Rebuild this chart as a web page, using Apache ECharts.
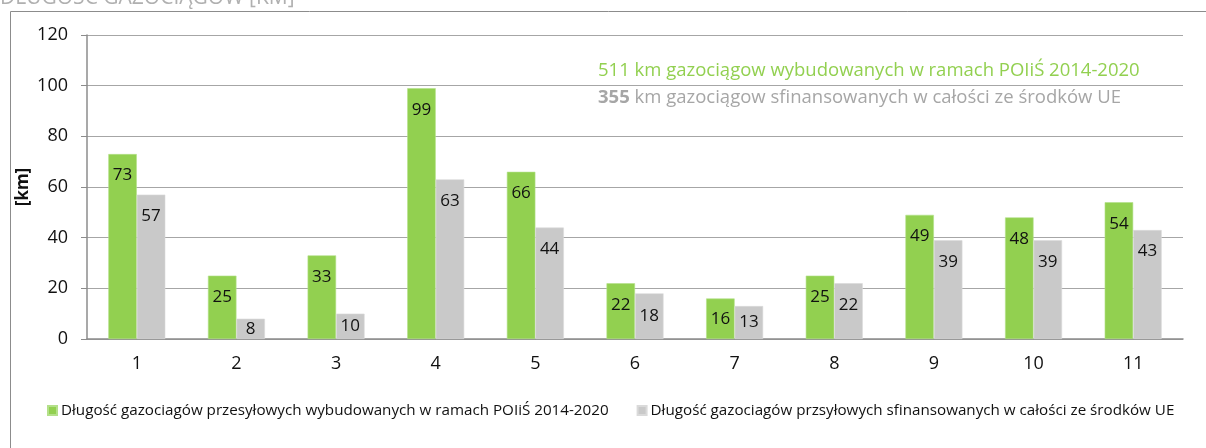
<!DOCTYPE html>
<html>
<head>
<meta charset="utf-8">
<script src="https://cdn.jsdelivr.net/npm/echarts@6/dist/echarts.min.js"></script>
<style>
html,body{margin:0;padding:0;background:#fff;}
#chart{width:1206px;height:448px;}
</style>
</head>
<body>
<div id="chart"></div>
<script>
// dane wykresu
var categories = ['1','2','3','4','5','6','7','8','9','10','11'];
var builtValues = [73, 25, 33, 99, 66, 22, 16, 25, 49, 48, 54];
var fundedValues = [57, 8, 10, 63, 44, 18, 13, 22, 39, 39, 43];
var yTicks = [0, 20, 40, 60, 80, 100, 120];
var seriesNames = [
    'Długość gazociagów przesyłowych wybudowanych w ramach POIiŚ 2014-2020',
    'Długość gazociagów przsyłowych sfinansowanych w całości ze środków UE'
];
var noteBuilt = '511 km gazociągow wybudowanych w ramach POIiŚ 2014-2020';
var noteFundedNum = '355';
var noteFundedText = ' km gazociągow sfinansowanych w całości ze środków UE';

var FONT = '"Open Sans", sans-serif';
var GREEN = '#92D050', GRAY = '#C9C9C9';

//niskie słupki - etykieta na środku
function toItems(arr){
    return arr.map(function(v){
        if(v < 20){
            return {value: v, label: {position: 'inside'}};
        }
        return v;
    });
}

var chart = echarts.init(document.getElementById('chart'));
var option = {
    animation: false,
    textStyle: {fontFamily: FONT},
    grid: {left: 87, right: 23, top: 35, bottom: 109, outerBoundsMode: 'none'},
    legend: {
        bottom: 25,
        left: 42,
        itemWidth: 9,
        itemHeight: 9,
        itemGap: 28,
        icon: 'rect',
        textStyle: {fontFamily: FONT, fontSize: 15.2, color: '#111', padding: [0,0,0,-1]},
        data: seriesNames
    },
    xAxis: {
        type: 'category',
        data: categories,
        axisLine: {lineStyle: {color: '#8c8c8c', width: 1.5}},
        axisTick: {length: 6, lineStyle: {color: '#8c8c8c'}},
        axisLabel: {fontSize: 18, color: '#111', margin: 16, fontFamily: FONT}
    },
    yAxis: {
        type: 'value',
        min: yTicks[0],
        max: yTicks[yTicks.length - 1],
        interval: yTicks[1] - yTicks[0],
        axisLine: {show: true, lineStyle: {color: '#8c8c8c', width: 1.5}},
        axisTick: {show: true, length: 6, lineStyle: {color: '#8c8c8c'}},
        axisLabel: {fontSize: 18, color: '#111', margin: 19, fontFamily: FONT},
        splitLine: {lineStyle: {color: '#a6a6a6', width: 1.2}}
    },
    graphic: [
        {
            type: 'rect',
            shape: {x: 10.5, y: 11.5, width: 1220, height: 460},
            style: {fill: 'none', stroke: '#8c8c8c', lineWidth: 1},
            silent: true
        },
        {
            type: 'text',
            left: 0,
            top: -12,
            style: {text: 'DŁUGOŚĆ GAZOCIĄGÓW [KM]', fill: '#b0b0b0', font: '21px ' + FONT}
        },
        {
            //nazwa osi Y
            type: 'text',
            x: 23,
            y: 187,
            rotation: Math.PI / 2,
            style: {text: '[km]', fill: '#111', font: 'bold 17px ' + FONT, align: 'center', verticalAlign: 'middle'}
        },
        {
            type: 'text',
            left: 598,
            top: 61,
            style: {text: noteBuilt, fill: GREEN, font: '18.5px ' + FONT}
        },
        {
            type: 'text',
            left: 598,
            top: 88,
            style: {
                text: '{b|' + noteFundedNum + '}{n|' + noteFundedText + '}',
                rich: {
                    b: {fill: '#a6a6a6', fontWeight: 'bold', fontSize: 18.5, fontFamily: FONT},
                    n: {fill: '#a6a6a6', fontSize: 18.5, fontFamily: FONT}
                }
            }
        }
    ],
    series: [
        {
            name: seriesNames[0],
            type: 'bar',
            data: toItems(builtValues),
            barWidth: 28.5,
            barGap: '0%',
            itemStyle: {color: GREEN, borderColor: '#b4e08a', borderWidth: 0.6},
            label: {show: true, position: 'insideTop', distance: 13, fontSize: 17, color: '#111', fontFamily: FONT}
        },
        {
            name: seriesNames[1],
            type: 'bar',
            data: toItems(fundedValues),
            barWidth: 28.5,
            barGap: '0%',
            itemStyle: {color: GRAY, borderColor: '#dadada', borderWidth: 0.6},
            label: {show: true, position: 'insideTop', distance: 13, fontSize: 17, color: '#111', fontFamily: FONT}
        }
    ]
};
chart.setOption(option);
</script>
</body>
</html>
